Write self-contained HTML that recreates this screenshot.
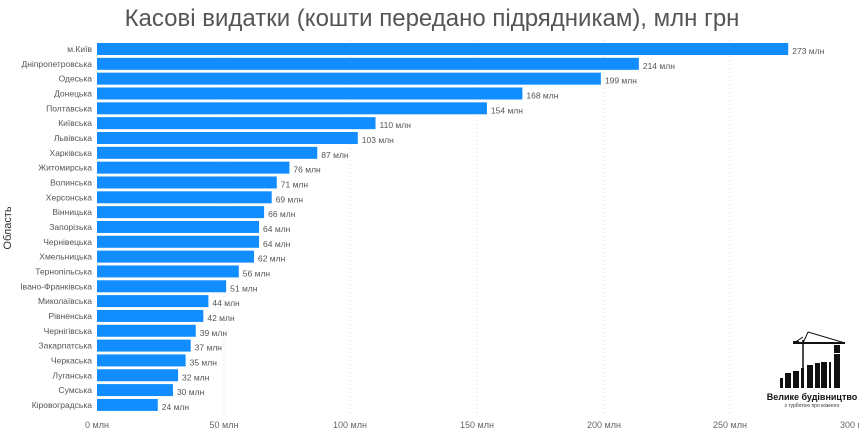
<!DOCTYPE html>
<html><head><meta charset="utf-8"><style>
body{margin:0;width:859px;height:431px;background:#fff;overflow:hidden;font-family:"Liberation Sans",sans-serif}
</style></head><body>
<svg width="859" height="431" xmlns="http://www.w3.org/2000/svg" font-family="Liberation Sans, sans-serif">
<text x="432" y="26" font-size="24" fill="#555" text-anchor="middle">Касові видатки (кошти передано підрядникам), млн грн</text>
<g stroke="#ddd" stroke-dasharray="1,3">
<line x1="224" y1="40" x2="224" y2="413"/><line x1="350" y1="40" x2="350" y2="413"/><line x1="477" y1="40" x2="477" y2="413"/><line x1="604" y1="40" x2="604" y2="413"/><line x1="730" y1="40" x2="730" y2="413"/>
</g>
<g font-size="9" fill="#666" text-anchor="middle">
<text x="97" y="428">0 млн</text><text x="224" y="428">50 млн</text><text x="350" y="428">100 млн</text><text x="477" y="428">150 млн</text><text x="604" y="428">200 млн</text><text x="730" y="428">250 млн</text><text x="857" y="428">300 млн</text>
</g>
<text transform="translate(11,228) rotate(-90)" font-size="11" fill="#333" text-anchor="middle">Область</text>
<g id="bars"></g>
<g>
<line x1="803" y1="340" x2="803" y2="388" stroke="#111" stroke-width="1.5"/>
<line x1="794" y1="343" x2="845" y2="343" stroke="#111" stroke-width="2"/>
<line x1="803" y1="337" x2="794" y2="343" stroke="#111"/><line x1="808" y1="332" x2="845" y2="343" stroke="#111"/><line x1="808" y1="332" x2="803" y2="343" stroke="#111"/>
<rect x="793" y="341" width="6" height="3" fill="#111"/>
<g fill="#111"><rect x="780" y="378" width="3" height="10"/><rect x="785" y="373" width="6" height="15"/><rect x="793" y="371" width="6" height="17"/><rect x="801" y="368" width="3" height="20"/><rect x="807" y="365" width="6" height="23"/><rect x="815" y="363" width="5" height="25"/><rect x="821" y="362" width="6" height="26"/><rect x="829" y="362" width="2" height="26"/><rect x="834" y="354" width="6" height="34"/><rect x="834" y="345" width="6" height="8"/></g>
<text x="812" y="400" font-size="9" font-weight="bold" fill="#111" text-anchor="middle">Велике будівництво</text>
<text x="812" y="407" font-size="5" fill="#333" text-anchor="middle">з турботою про кожного</text>
</g>
</svg>
<script>
const d=[["м.Київ",273],["Дніпропетровська",214],["Одеська",199],["Донецька",168],["Полтавська",154],["Київська",110],["Львівська",103],["Харківська",87],["Житомирська",76],["Волинська",71],["Херсонська",69],["Вінницька",66],["Запорізька",64],["Чернівецька",64],["Хмельницька",62],["Тернопільська",56],["Івано-Франківська",51],["Миколаївська",44],["Рівненська",42],["Чернігівська",39],["Закарпатська",37],["Черкаська",35],["Луганська",32],["Сумська",30],["Кіровоградська",24]];
let s="";
d.forEach((r,i)=>{const y=43+i*14.83;const w=r[1]*2.532;
s+=`<rect x="97" y="${y}" width="${w}" height="12" fill="#118dff"/>`;
s+=`<text x="92" y="${y+9}" font-size="8.5" fill="#555" text-anchor="end">${r[0]}</text>`;
s+=`<text x="${97+w+4}" y="${y+11}" font-size="8.5" fill="#555">${r[1]} млн</text>`;});
document.getElementById("bars").innerHTML=s;
</script>
</body></html>
